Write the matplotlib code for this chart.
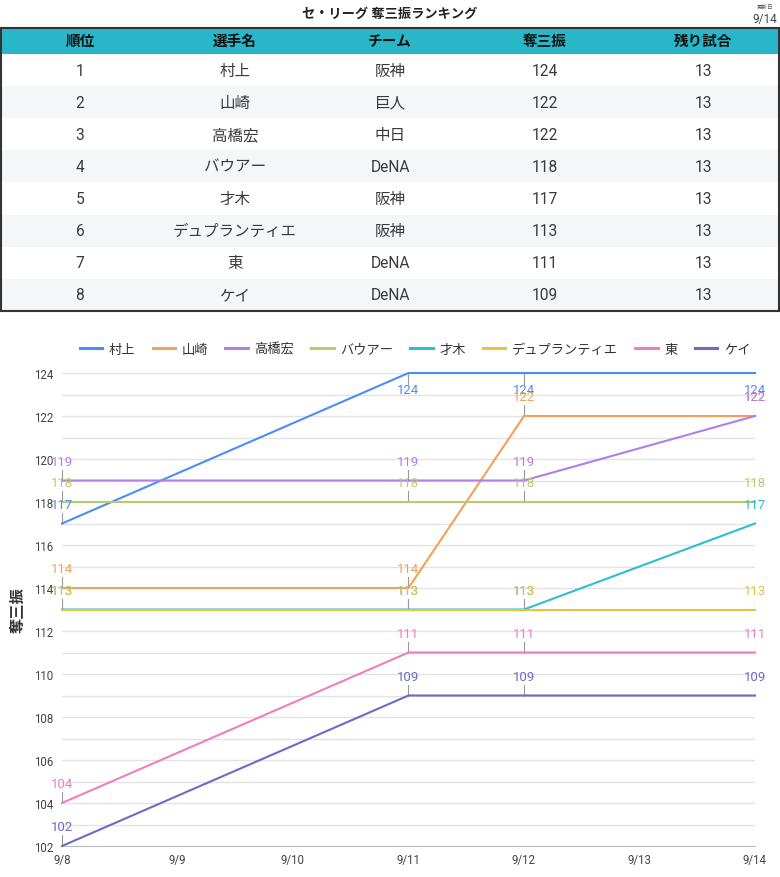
import matplotlib
matplotlib.use("Agg")
import matplotlib.pyplot as plt
import matplotlib.patches as patches

plt.rcParams['font.family'] = ['Roboto', 'Noto Sans CJK JP', 'DejaVu Sans']

# ranking table
ranks = [1, 2, 3, 4, 5, 6, 7, 8]
players = ["村上", "山崎", "高橋宏", "バウアー", "才木", "デュプランティエ", "東", "ケイ"]
teams = ["阪神", "巨人", "中日", "DeNA", "阪神", "阪神", "DeNA", "DeNA"]
strikeouts = [124, 122, 122, 118, 117, 113, 111, 109]
remaining = [13, 13, 13, 13, 13, 13, 13, 13]
headers = ["順位", "選手名", "チーム", "奪三振", "残り試合"]

# trend chart
days = ["9/8", "9/9", "9/10", "9/11", "9/12", "9/13", "9/14"]
day_idx = [0, 3, 4, 6]  # days with data
legend_names = ["村上", "山崎", "高橋宏", "バウアー", "才木", "デュプランティエ", "東", "ケイ"]
murakami = [117, 124, 124, 124]
yamasaki = [114, 114, 122, 122]
takahashi = [119, 119, 119, 122]
bauer = [118, 118, 118, 118]
saiki = [113, 113, 113, 117]
duplantier = [113, 113, 113, 113]
azuma = [104, 111, 111, 111]
kay = [102, 109, 109, 109]
series = [murakami, yamasaki, takahashi, bauer, saiki, duplantier, azuma, kay]
colors = ["#4a8ef5", "#f5a05a", "#b27ee8", "#b8cb6e", "#2bbfcf",
          "#e9c23f", "#ee7fbf", "#6b6bc6"]

fig = plt.figure(figsize=(7.8, 8.78), dpi=100)

# background axes in pixel coords for title + table
bg = fig.add_axes([0, 0, 1, 1])
bg.set_xlim(0, 780)
bg.set_ylim(878, 0)
bg.axis('off')

bg.text(390, 14, "セ・リーグ 奪三振ランキング", ha='center', va='center',
        fontsize=9.5, fontweight='bold', color='#222222')
bg.text(765, 7, "更新日", ha='center', va='center', fontsize=4, color='#555555')
bg.text(765, 19, "9/14", ha='center', va='center', fontsize=8.5, color='#444444')

col_x = [80, 235, 390, 545, 703]
tbl_top, head_h, row_h = 29, 26, 32.1
bg.add_patch(patches.Rectangle((1, tbl_top), 778, head_h, facecolor='#29b6c9', edgecolor='none'))
for cx, h in zip(col_x, headers):
    bg.text(cx, tbl_top + head_h / 2, h, ha='center', va='center',
            fontsize=10.5, fontweight='bold', color='#111111')

rows = list(zip(ranks, players, teams, strikeouts, remaining))
for i, row in enumerate(rows):
    y0 = tbl_top + head_h + i * row_h
    if i % 2 == 1:
        bg.add_patch(patches.Rectangle((1, y0), 778, row_h, facecolor='#f5f6f8', edgecolor='none'))
    for cx, v in zip(col_x, row):
        bg.text(cx, y0 + row_h / 2, str(v), ha='center', va='center',
                fontsize=11.2, color='#3a3a3a')
tbl_bottom = tbl_top + head_h + len(rows) * row_h
bg.add_patch(patches.Rectangle((1, tbl_top), 778, tbl_bottom - tbl_top,
                               facecolor='none', edgecolor='#333333', lw=1.5))

# line chart
ax = fig.add_axes([62 / 780, 1 - 847 / 878, 693 / 780, 473 / 878])
ax.set_xlim(0, 6)
ax.set_ylim(102, 124)
for v in range(102, 125):
    ax.axhline(v, color='#e3e3e3', lw=1, zorder=0)

handles = []
for name, vals, c in zip(legend_names, series, colors):
    ln, = ax.plot(day_idx, vals, color=c, lw=1.5, label=name, zorder=3, clip_on=False)
    handles.append(ln)
    for x, v in zip(day_idx, vals):
        if v >= 124:
            ax.plot([x, x], [v, v - 0.5], color='#999999', lw=0.8, zorder=2)
            ax.text(x, v - 0.75, str(v), ha='center', va='center', color=c,
                    fontsize=9.5, zorder=4)
        else:
            ax.plot([x, x], [v, v + 0.5], color='#999999', lw=0.8, zorder=2)
            ax.text(x, v + 0.9, str(v), ha='center', va='center', color=c,
                    fontsize=9.5, zorder=4)

ax.set_xticks(range(len(days)))
ax.set_xticklabels(days)
ax.set_yticks(range(102, 125, 2))
ax.tick_params(axis='both', length=0, labelsize=8.3, colors='#444444')
ax.tick_params(axis='y', pad=6)
ax.tick_params(axis='x', pad=5)
for s in ['top', 'right', 'left']:
    ax.spines[s].set_visible(False)
ax.spines['bottom'].set_color('#bbbbbb')
ax.set_ylabel("奪三振", fontsize=11, fontweight='bold', color='#333333')
ax.yaxis.set_label_coords(-(62 - 26) / 693, 0.5)

leg = fig.legend(handles=handles, loc='center', bbox_to_anchor=(415 / 780, 1 - 350 / 878),
                 ncol=8, frameon=False, fontsize=9.5, handlelength=1.7, columnspacing=1.3,
                 handletextpad=0.5, labelcolor='#333333')
for h in leg.get_lines():
    h.set_linewidth(2.2)

fig.savefig("out.png", dpi=100)
